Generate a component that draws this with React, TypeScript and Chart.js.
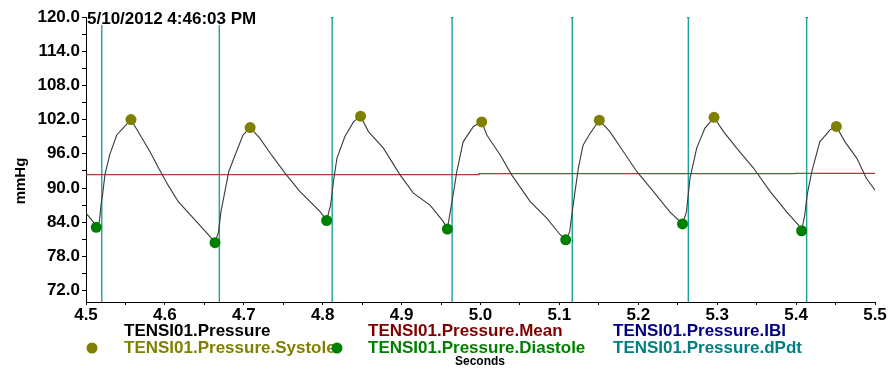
import React, { useEffect, useRef } from "react";
import { Chart, registerables } from "chart.js";

Chart.register(...registerables);

const FONT = '"Liberation Sans", Arial, Helvetica, sans-serif';

// ---- data ----
const titleText = "5/10/2012 4:46:03 PM";
const yAxisTitle = "mmHg";
const xAxisTitle = "Seconds";

const pressureT = [
  4.5, 4.509, 4.513, 4.517, 4.519, 4.521, 4.524, 4.53, 4.539, 4.547, 4.557, 4.566, 4.581, 4.592, 4.604, 4.617, 4.636, 4.657,
  4.6635, 4.668, 4.671, 4.681, 4.689, 4.699, 4.708, 4.7205, 4.735, 4.754, 4.771, 4.797, 4.805, 4.81, 4.814, 4.818, 4.828,
  4.839, 4.848, 4.858, 4.877, 4.898, 4.915, 4.936, 4.953, 4.958, 4.961, 4.966, 4.97, 4.978, 4.991, 5.0015, 5.008, 5.025,
  5.0395, 5.063, 5.084, 5.101, 5.108, 5.113, 5.118, 5.124, 5.13, 5.139, 5.1506, 5.164, 5.181, 5.198, 5.219, 5.24, 5.256,
  5.261, 5.2655, 5.274, 5.2845, 5.296, 5.308, 5.3247, 5.346, 5.367, 5.388, 5.403, 5.407, 5.411, 5.414, 5.42, 5.43, 5.443,
  5.451, 5.462, 5.477, 5.489, 5.5,
];
const pressureV = [
  85.6, 84.1, 83.1, 84.1, 87.0, 88.8, 92.3, 95.8, 99.3, 100.5, 102.0, 99.9, 96.4, 93.5, 90.5, 87.6, 84.7, 81.5,
  80.4, 82.3, 85.8, 92.9, 95.8, 99.3, 100.6, 98.7, 95.8, 92.3, 89.4, 85.8, 84.3, 87.0, 91.5, 95.2, 99.0,
  101.6, 102.6, 99.9, 97.0, 92.3, 89.1, 87.0, 84.1, 82.8, 85.3, 89.4, 92.9, 98.1, 100.8, 101.6, 99.3, 95.8,
  92.3, 87.6, 84.7, 81.8, 80.9, 82.3, 87.6, 93.5, 97.5, 99.6, 101.9, 99.9, 96.4, 92.9, 89.4, 85.8, 83.7,
  85.8, 91.7, 97.0, 100.5, 102.4, 99.9, 97.0, 93.5, 89.4, 85.8, 83.5, 82.5, 85.3, 88.8, 92.9, 98.1, 100.2,
  100.8, 98.1, 95.2, 91.7, 89.6,
];

const meanT = [4.5, 4.998, 5.399, 5.5];
const meanV = [92.33, 92.51, 92.58, 92.58];

const systoleT = [4.557, 4.708, 4.848, 5.0015, 5.1506, 5.296, 5.451];
const systoleV = [102.0, 100.6, 102.6, 101.6, 101.9, 102.4, 100.8];

const diastoleT = [4.513, 4.6635, 4.805, 4.958, 5.108, 5.256, 5.407];
const diastoleV = [83.1, 80.4, 84.3, 82.8, 80.9, 83.7, 82.5];

const dPdtT = [4.52, 4.669, 4.812, 4.964, 5.1163, 5.2634, 5.4134];

const xMajorTicks = [4.5, 4.6, 4.7, 4.8, 4.9, 5.0, 5.1, 5.2, 5.3, 5.4, 5.5];
const xMinorTicks = [4.55, 4.65, 4.75, 4.85, 4.95, 5.05, 5.15, 5.25, 5.35, 5.45];
const yMajorTicks = [72, 78, 84, 90, 96, 102, 108, 114, 120];
const yMinorTicks = [75, 81, 87, 93, 99, 105, 111, 117];

const xMin = 4.5;
const xMax = 5.5;
const yMin = 70;
const yMax = 120;

const legendNames = [
  "TENSI01.Pressure",
  "TENSI01.Pressure.Mean",
  "TENSI01.Pressure.IBI",
  "TENSI01.Pressure.Systole",
  "TENSI01.Pressure.Diastole",
  "TENSI01.Pressure.dPdt",
];

// ---- styles ----
const C_PRESSURE = "#3a3a3a";
const C_MEAN = "#a83c3c";
const C_MEAN_TEXT = "#800000";
const C_IBI = "#000080";
const C_SYS = "#808000";
const C_DIA = "#008000";
const C_DPDT = "#22a0a0";
const C_DPDT_TEXT = "#008080";

const legendLayout = [
  { x: 124, y: 331, color: "#000000", dot: null },
  { x: 368, y: 331, color: C_MEAN_TEXT, dot: null },
  { x: 613, y: 331, color: C_IBI, dot: null },
  { x: 124, y: 348, color: C_SYS, dot: { x: 92, color: C_SYS } },
  { x: 368, y: 348, color: C_DIA, dot: { x: 337, color: C_DIA } },
  { x: 613, y: 348, color: C_DPDT_TEXT, dot: null },
];

const zip = (xs: number[], ys: number[]) => xs.map((x, i) => ({ x, y: ys[i] }));

const overlayPlugin = {
  id: "overlay",
  afterDraw(chart: any) {
    const ctx = chart.ctx as CanvasRenderingContext2D;
    const a = chart.chartArea;
    ctx.save();
    // title
    ctx.font = `bold 17px ${FONT}`;
    ctx.textBaseline = "middle";
    ctx.textAlign = "left";
    const tw = ctx.measureText(titleText).width;
    ctx.fillStyle = "#ffffff";
    ctx.fillRect(a.left + 1, a.top - 8, tw + 1, 16);
    ctx.fillStyle = "#000000";
    ctx.fillText(titleText, a.left + 1, a.top + 2);

    // y title
    ctx.save();
    ctx.translate(21, 181);
    ctx.rotate(-Math.PI / 2);
    ctx.font = `bold 15px ${FONT}`;
    ctx.textAlign = "center";
    ctx.fillText(yAxisTitle, 0, 0);
    ctx.restore();

    // legend
    ctx.font = `bold 17px ${FONT}`;
    legendNames.forEach((name, i) => {
      const L = legendLayout[i];
      if (L.dot) {
        ctx.beginPath();
        ctx.fillStyle = L.dot.color;
        ctx.arc(L.dot.x, L.y, 5.5, 0, Math.PI * 2);
        ctx.fill();
      }
      ctx.fillStyle = L.color;
      ctx.fillText(name, L.x, L.y);
    });

    // x title
    ctx.font = `bold 12px ${FONT}`;
    ctx.fillStyle = "#000000";
    ctx.textAlign = "center";
    ctx.fillText(xAxisTitle, 480, 362);
    ctx.restore();
  },
};

export default function App() {
  const ref = useRef<HTMLCanvasElement | null>(null);

  useEffect(() => {
    if (!ref.current) return;
    const dpdtData: any[] = [];
    dPdtT.forEach((t) => {
      dpdtData.push({ x: t, y: yMax });
      dpdtData.push({ x: t, y: yMin });
      dpdtData.push({ x: t, y: null });
    });

    const xTicks = [...xMajorTicks, ...xMinorTicks].sort((p, q) => p - q);
    const yTicks = [...yMajorTicks, ...yMinorTicks].sort((p, q) => p - q);

    const chart = new Chart(ref.current, {
      type: "line",
      data: {
        datasets: [
          {
            label: legendNames[3],
            data: zip(systoleT, systoleV),
            showLine: false,
            pointRadius: 5.5,
            pointBackgroundColor: C_SYS,
            pointBorderWidth: 0,
            borderColor: C_SYS,
          },
          {
            label: legendNames[4],
            data: zip(diastoleT, diastoleV),
            showLine: false,
            pointRadius: 5.5,
            pointBackgroundColor: C_DIA,
            pointBorderWidth: 0,
            borderColor: C_DIA,
          },
          {
            label: legendNames[0],
            data: zip(pressureT, pressureV),
            borderColor: C_PRESSURE,
            borderWidth: 1.1,
            pointRadius: 0,
            tension: 0,
          },
          {
            label: legendNames[1],
            data: zip(meanT, meanV),
            borderColor: C_MEAN,
            borderWidth: 1.3,
            pointRadius: 0,
            stepped: "before",
          },
          {
            label: legendNames[5],
            data: dpdtData,
            borderColor: C_DPDT,
            borderWidth: 1.4,
            pointRadius: (c: any) => (c.raw && c.raw.y === yMax ? 1.5 : 0),
            pointBackgroundColor: C_DPDT,
            pointBorderWidth: 0,
            spanGaps: false,
          },
        ] as any,
      },
      options: {
        responsive: false,
        animation: false,
        devicePixelRatio: 1,
        layout: { padding: { top: 17, right: 15, left: 0, bottom: 0 } },
        plugins: { legend: { display: false }, tooltip: { enabled: false } },
        scales: {
          x: {
            type: "linear",
            min: xMin,
            max: xMax,
            afterBuildTicks: (s: any) => {
              s.ticks = xTicks.map((v) => ({ value: v }));
            },
            afterFit: (s: any) => {
              s.height = 67;
            },
            ticks: {
              autoSkip: false,
              maxRotation: 0,
              padding: 0,
              color: "#000",
              font: { family: FONT, size: 17, weight: "bold" },
              callback: (v: any) => (xMajorTicks.some((m) => Math.abs(m - v) < 1e-6) ? Number(v).toFixed(1) : ""),
            },
            grid: { drawOnChartArea: false, tickLength: 3, color: "#000" },
            border: { display: true, color: "#000", width: 1 },
          },
          y: {
            type: "linear",
            min: yMin,
            max: yMax,
            afterBuildTicks: (s: any) => {
              s.ticks = yTicks.map((v) => ({ value: v }));
            },
            afterFit: (s: any) => {
              s.width = 86;
            },
            ticks: {
              autoSkip: false,
              padding: 2,
              color: "#000",
              font: { family: FONT, size: 17, weight: "bold" },
              callback: (v: any) => (yMajorTicks.includes(Number(v)) ? Number(v).toFixed(1) : ""),
            },
            grid: { drawOnChartArea: false, tickLength: 4, color: "#000" },
            border: { display: true, color: "#000", width: 1 },
          },
        },
      } as any,
      plugins: [overlayPlugin],
    });
    return () => chart.destroy();
  }, []);

  return (
    <div style={{ position: "absolute", left: 0, top: 0, width: 890, height: 369, background: "#fff" }}>
      <canvas ref={ref} width={890} height={369} />
    </div>
  );
}
